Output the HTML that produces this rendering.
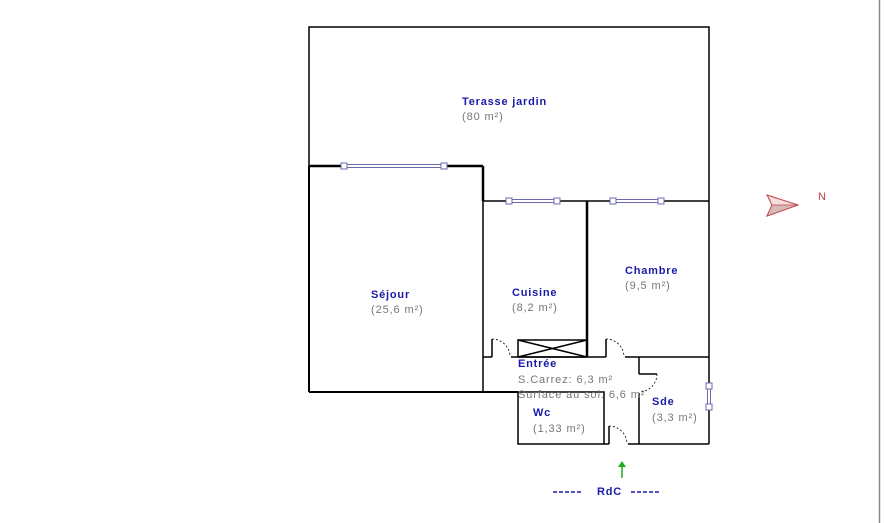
<!DOCTYPE html>
<html><head><style>
html,body{margin:0;padding:0;background:#fff;}
svg{display:block;}
.t{font-family:"Liberation Sans",sans-serif;font-size:11px;font-weight:bold;fill:#1a1aa6;letter-spacing:0.8px;}
.a{font-family:"Liberation Sans",sans-serif;font-size:11px;fill:#777;letter-spacing:0.9px;}
</style></head><body>
<svg width="884" height="523" viewBox="0 0 884 523" xmlns="http://www.w3.org/2000/svg">
<line x1="879.5" y1="0" x2="879.5" y2="523" stroke="#888" stroke-width="1.5"/>
<g stroke="#000" fill="none" stroke-width="1.5">
<polyline points="309,166 309,27 709,27 709,201"/>
<line x1="309" y1="166" x2="344" y2="166" stroke-width="2.5"/>
<line x1="445" y1="166" x2="483" y2="166" stroke-width="2.5"/>
<line x1="483" y1="166" x2="483" y2="201" stroke-width="2.5"/>
<line x1="483" y1="201" x2="509" y2="201"/>
<line x1="557" y1="201" x2="613" y2="201"/>
<line x1="661" y1="201" x2="709" y2="201"/>
<line x1="309" y1="166" x2="309" y2="392" stroke-width="2"/>
<line x1="483" y1="201" x2="483" y2="392"/>
<line x1="587" y1="201" x2="587" y2="357" stroke-width="2.5"/>
<line x1="709" y1="201" x2="709" y2="383"/>
<line x1="709" y1="410" x2="709" y2="444"/>
<line x1="309" y1="392" x2="518" y2="392" stroke-width="2"/>
<line x1="483" y1="357" x2="492" y2="357"/>
<line x1="511" y1="357" x2="606" y2="357"/>
<line x1="625" y1="357" x2="709" y2="357"/>
<rect x="518" y="340" width="69" height="17"/>
<line x1="518" y1="340" x2="587" y2="357"/>
<line x1="587" y1="340" x2="518" y2="357"/>
<line x1="639" y1="357" x2="639" y2="374"/>
<line x1="639" y1="393" x2="639" y2="444"/>
<rect x="518" y="392" width="86" height="52"/>
<line x1="604" y1="444" x2="609" y2="444"/>
<line x1="628" y1="444" x2="709" y2="444"/>
<line x1="492" y1="357" x2="492" y2="339"/>
<line x1="606" y1="357" x2="606" y2="339"/>
<line x1="639" y1="374" x2="657" y2="374"/>
<line x1="609" y1="444" x2="609" y2="426"/>
</g>
<g stroke="#000" fill="none" stroke-width="0.8" stroke-dasharray="2,2">
<path d="M492,339 A18,18 0 0 1 510,357"/>
<path d="M606,339 A18,18 0 0 1 624,357"/>
<path d="M657,374 A18,18 0 0 1 639,392"/>
<path d="M609,426 A18,18 0 0 1 627,444"/>
</g>
<g stroke="#6a6ab0" stroke-width="1" fill="#fff">
<line x1="344" y1="164.5" x2="445" y2="164.5"/><line x1="344" y1="167.5" x2="445" y2="167.5"/>
<line x1="509" y1="199.5" x2="557" y2="199.5"/><line x1="509" y1="202.5" x2="557" y2="202.5"/>
<line x1="613" y1="199.5" x2="661" y2="199.5"/><line x1="613" y1="202.5" x2="661" y2="202.5"/>
<line x1="707.5" y1="386" x2="707.5" y2="410"/><line x1="710.5" y1="386" x2="710.5" y2="410"/>
<rect x="341" y="163" width="6" height="6"/><rect x="441" y="163" width="6" height="6"/>
<rect x="506" y="198" width="6" height="6"/><rect x="554" y="198" width="6" height="6"/>
<rect x="610" y="198" width="6" height="6"/><rect x="658" y="198" width="6" height="6"/>
<rect x="706" y="383" width="6" height="6"/><rect x="706" y="404" width="6" height="6"/>
</g>
<text class="t" x="462" y="105">Terasse jardin</text>
<text class="a" x="462" y="120">(80 m²)</text>
<text class="t" x="371" y="298">Séjour</text>
<text class="a" x="371" y="313">(25,6 m²)</text>
<text class="t" x="512" y="296">Cuisine</text>
<text class="a" x="512" y="311">(8,2 m²)</text>
<text class="t" x="625" y="274">Chambre</text>
<text class="a" x="625" y="289">(9,5 m²)</text>
<text class="t" x="518" y="367">Entrée</text>
<text class="a" x="518" y="383">S.Carrez: 6,3 m²</text>
<text class="a" x="518" y="398">Surface au sol: 6,6 m²</text>
<text class="t" x="533" y="416">Wc</text>
<text class="a" x="533" y="432">(1,33 m²)</text>
<text class="t" x="652" y="405">Sde</text>
<text class="a" x="652" y="421">(3,3 m²)</text>
<line x1="622" y1="478" x2="622" y2="466" stroke="#2a2" stroke-width="1.5"/>
<polygon points="618,467 622,461 626,467" fill="#2a2"/>
<g stroke="#1a1aa6" stroke-width="1.5">
<line x1="553" y1="492" x2="557" y2="492"/><line x1="559" y1="492" x2="563" y2="492"/><line x1="565" y1="492" x2="569" y2="492"/><line x1="571" y1="492" x2="575" y2="492"/><line x1="577" y1="492" x2="581" y2="492"/>
<line x1="631" y1="492" x2="635" y2="492"/><line x1="637" y1="492" x2="641" y2="492"/><line x1="643" y1="492" x2="647" y2="492"/><line x1="649" y1="492" x2="653" y2="492"/><line x1="655" y1="492" x2="659" y2="492"/>
</g>
<text class="t" x="597" y="495">RdC</text>
<polygon points="767,195 798,205 767,216 772,205" fill="#f4dede" stroke="#c0404a" stroke-width="1"/>
<polygon points="772,205 798,205 767,216" fill="#d8b8b8" stroke="#c0404a" stroke-width="0.8"/>
<text x="818" y="200" style="font-family:'Liberation Sans',sans-serif;font-size:11px;fill:#c0404a;">N</text>
</svg>
</body></html>
